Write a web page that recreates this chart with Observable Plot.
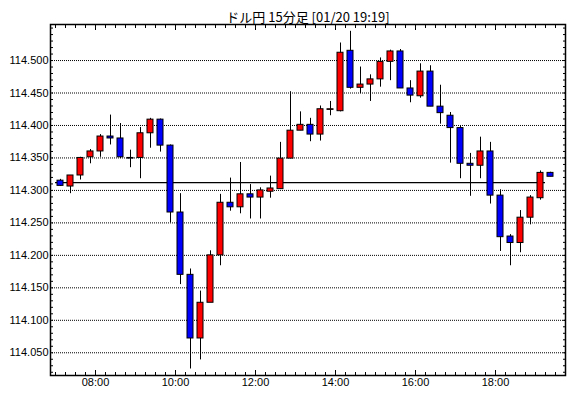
<!DOCTYPE html>
<html>
<head>
<meta charset="utf-8">
<script src="https://cdn.jsdelivr.net/npm/d3@7"></script>
<script src="https://cdn.jsdelivr.net/npm/@observablehq/plot@0.6"></script>
<style>
  html, body { margin: 0; padding: 0; background: #ffffff; }
  #chart svg { display: block; }
</style>
</head>
<body>
<div id="chart"></div>
<script>
const title = "ドル円 15分足 [01/20 19:19]";

const times = ["07:00","07:15","07:30","07:45","08:00","08:15","08:30","08:45","09:00","09:15",
  "09:30","09:45","10:00","10:15","10:30","10:45","11:00","11:15","11:30","11:45",
  "12:00","12:15","12:30","12:45","13:00","13:15","13:30","13:45","14:00","14:15",
  "14:30","14:45","15:00","15:15","15:30","15:45","16:00","16:15","16:30","16:45",
  "17:00","17:15","17:30","17:45","18:00","18:15","18:30","18:45","19:00","19:15"];

const open = [114.315,114.306,114.323,114.351,114.360,114.383,114.380,114.350,114.350,114.388,
  114.409,114.369,114.266,114.170,114.072,114.127,114.200,114.281,114.274,114.294,
  114.289,114.298,114.302,114.349,114.392,114.401,114.386,114.424,114.422,114.515,
  114.458,114.463,114.471,114.498,114.514,114.457,114.445,114.483,114.429,114.415,
  114.396,114.341,114.338,114.360,114.292,114.229,114.219,114.258,114.288,114.327];

const high = [114.317,114.323,114.351,114.363,114.386,114.416,114.403,114.362,114.397,114.411,
  114.410,114.370,114.295,114.179,114.145,114.207,114.294,114.319,114.343,114.309,
  114.304,114.322,114.374,114.452,114.421,114.411,114.430,114.437,114.527,114.545,
  114.490,114.478,114.504,114.516,114.517,114.469,114.495,114.492,114.462,114.420,
  114.399,114.357,114.382,114.374,114.301,114.232,114.269,114.292,114.330,114.328];

const low = [114.306,114.295,114.316,114.341,114.351,114.370,114.349,114.335,114.318,114.365,
  114.359,114.250,114.155,114.025,114.039,114.184,114.184,114.268,114.264,114.256,
  114.256,114.288,114.302,114.349,114.392,114.375,114.376,114.415,114.421,114.456,
  114.449,114.437,114.459,114.469,114.457,114.435,114.442,114.429,114.402,114.342,
  114.318,114.291,114.318,114.279,114.206,114.184,114.204,114.247,114.285,114.321];

const close = [114.307,114.323,114.350,114.360,114.383,114.380,114.351,114.349,114.388,114.409,
  114.369,114.266,114.170,114.072,114.127,114.200,114.281,114.274,114.294,114.289,
  114.300,114.303,114.349,114.392,114.401,114.386,114.425,114.425,114.512,114.458,
  114.463,114.471,114.498,114.514,114.457,114.446,114.483,114.429,114.419,114.396,
  114.341,114.338,114.360,114.292,114.228,114.219,114.258,114.289,114.327,114.321];

const refLevel = 114.312;
const refSpan = ["07:00", "19:15"];

const yTickValues = [114.050,114.100,114.150,114.200,114.250,114.300,114.350,114.400,114.450,114.500];
const xTickHours = [8, 10, 12, 14, 16, 18];
const xTickLabels = ["08:00","10:00","12:00","14:00","16:00","18:00"];

const barHours = 0.25; // 15-minute bars
const toHours = s => +s.slice(0, 2) + +s.slice(3) / 60;

const candles = times.map((t, i) => ({
  t0: toHours(t),
  t1: toHours(t) + barHours,
  tm: toHours(t) + barHours / 2,
  open: open[i], high: high[i], low: low[i], close: close[i]
}));

const xDomain = [6.875, 19.75];
const yDomain = [114.015, 114.5555];
const yMinor = d3.range(11402, 11456).map(d => d / 100);
const xMinor = d3.range(28, 79).map(d => d / 4);

const chart = Plot.plot({
  width: 570,
  height: 398,
  marginLeft: 50,
  marginRight: 5,
  marginTop: 24,
  marginBottom: 23,
  style: {fontFamily: "'Liberation Sans', Arial, sans-serif", fontSize: "11px", background: "#ffffff", color: "#000000"},
  x: {type: "linear", domain: xDomain, label: null},
  y: {type: "linear", domain: yDomain, label: null},
  marks: [
    Plot.ruleY(yTickValues, {stroke: "#000000", strokeWidth: 1, strokeDasharray: "1,1"}),
    Plot.ruleY([refLevel], {x1: toHours(refSpan[0]), x2: toHours(refSpan[1]), stroke: "#000000", strokeWidth: 1.2}),
    Plot.ruleX(candles, {x: "tm", y1: "low", y2: "high", stroke: "#000000", strokeWidth: 1}),
    Plot.rect(candles, {
      x1: "t0", x2: "t1", y1: "open", y2: "close",
      insetLeft: 2, insetRight: 2,
      fill: d => d.close >= d.open ? "#ff0000" : "#0000ff",
      stroke: "#000000", strokeWidth: 1
    }),
    Plot.axisY(yMinor, {anchor: "left", tickSize: -3, tickFormat: () => ""}),
    Plot.axisY(yMinor, {anchor: "right", tickSize: -3, tickFormat: () => ""}),
    Plot.axisY(yTickValues, {anchor: "left", tickSize: 0, tickPadding: 2, tickFormat: d3.format(".3f")}),
    Plot.axisX(xMinor, {anchor: "bottom", tickSize: -3, tickFormat: () => ""}),
    Plot.axisX(xMinor, {anchor: "top", tickSize: -3, tickFormat: () => ""}),
    Plot.axisX(xTickHours, {anchor: "bottom", tickSize: -5, tickFormat: () => ""}),
    Plot.axisX(xTickHours, {anchor: "top", tickSize: -5, tickFormat: () => ""}),
    Plot.axisX(xTickHours, {anchor: "bottom", tickSize: 0, tickPadding: 3, tickFormat: d => xTickLabels[xTickHours.indexOf(d)]}),
    Plot.frame({stroke: "#000000", strokeWidth: 1.5}),
    Plot.text([title], {text: d => d, frameAnchor: "top", dy: -12, fontSize: 13, fontFamily: "'Noto Sans CJK JP', sans-serif", fill: "#000000"})
  ]
});

document.getElementById("chart").appendChild(chart);
</script>
</body>
</html>
